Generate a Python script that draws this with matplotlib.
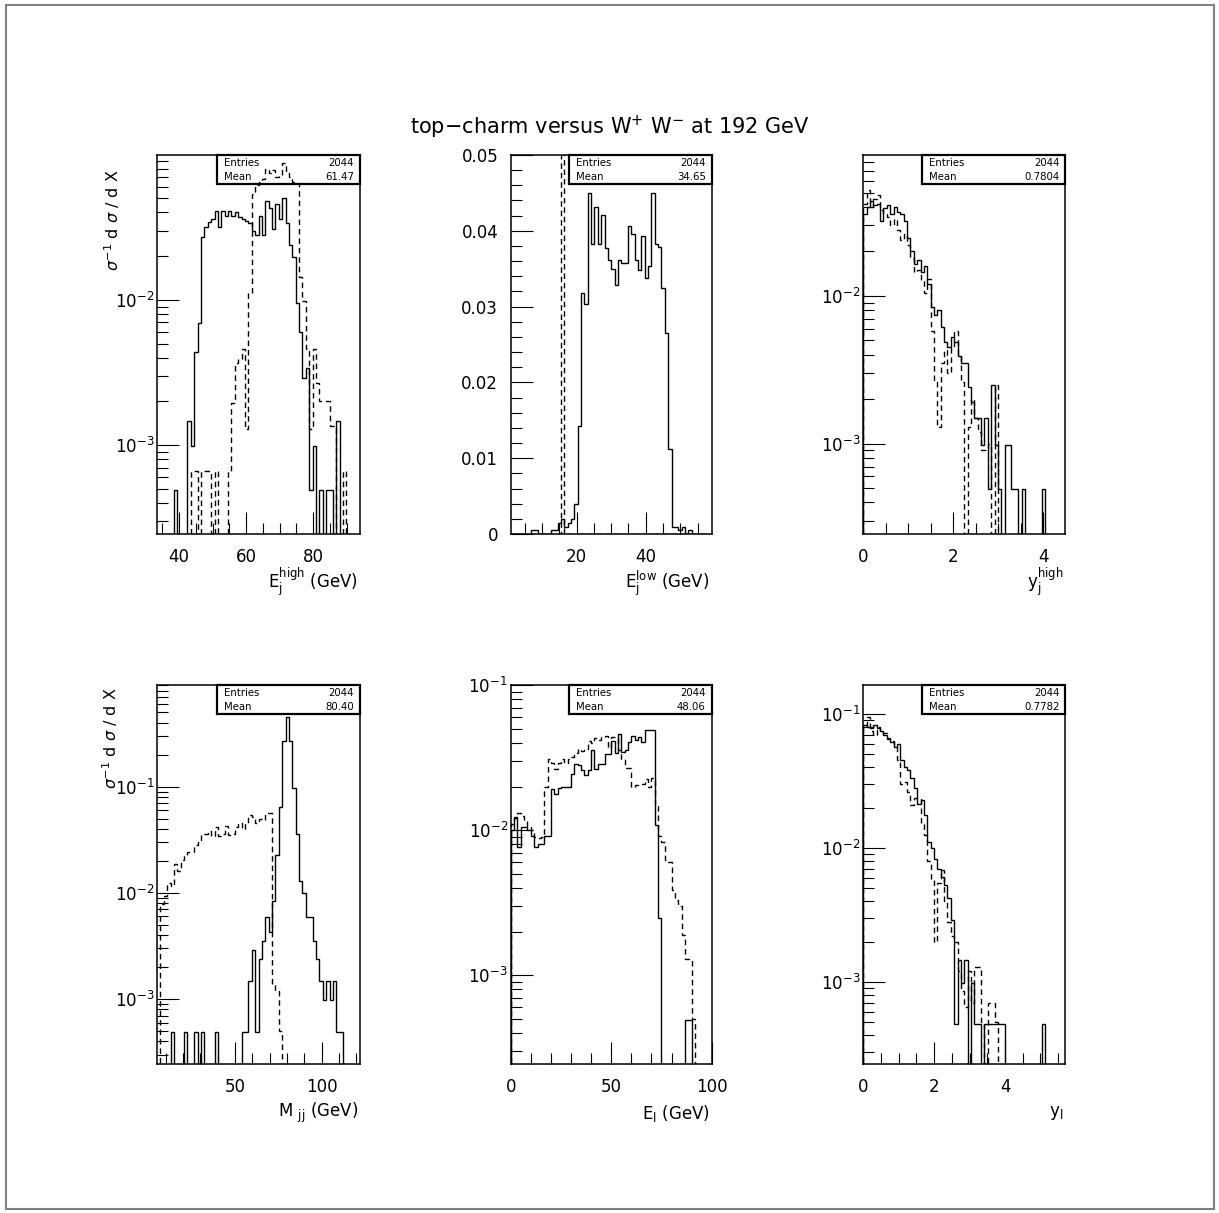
import numpy as np
import matplotlib
matplotlib.use("Agg")
import matplotlib.pyplot as plt
from matplotlib.ticker import MultipleLocator, LogLocator, NullFormatter, FuncFormatter
from matplotlib.patches import Rectangle

plt.rcParams['font.family'] = ['DejaVu Sans']
plt.rcParams['mathtext.fontset'] = 'dejavusans'

# ---------------- data ----------------
TITLE = "top\u2212charm versus W$^{+}$ W$^{-}$ at 192 GeV"
YLABEL = r"$\sigma^{-1}$ d $\sigma$ / d X"
ENTRIES = 2044
NBINS = 60

# Panel 1 : E_j^high
ejh_range = (33.4, 94.0)
ejh_mean = "61.47"
ejh_solid = [0, 0, 0, 0, 0, 4.9e-4, 0, 0, 0, 1.47e-3,
             9.8e-4, 4.4e-3, 6.9e-3, 0.027, 0.032, 0.0345, 0.036, 0.041, 0.032, 0.041,
             0.038, 0.041, 0.038, 0.040, 0.037, 0.036, 0.035, 0.034, 0.030, 0.028,
             0.038, 0.028, 0.048, 0.043, 0.031, 0.046, 0.036, 0.050, 0.034, 0.024,
             0.0196, 9.6e-3, 6.0e-3, 2.9e-3, 3.4e-3, 4.9e-4, 9.8e-4, 0, 4.9e-4, 0,
             4.9e-4, 4.9e-4, 0, 1.47e-3, 0, 0, 0, 0, 0, 0]
ejh_dash = [0, 0, 0, 0, 0, 0, 0, 0, 0, 0,
            6.6e-4, 6.6e-4, 0, 6.6e-4, 6.6e-4, 6.6e-4, 0, 6.6e-4, 0, 0,
            0, 6.6e-4, 1.96e-3, 3.7e-3, 3.9e-3, 4.6e-3, 1.3e-3, 0.0112, 0.054, 0.062,
            0.065, 0.068, 0.080, 0.075, 0.078, 0.070, 0.072, 0.088, 0.075, 0.070,
            0.065, 0.064, 0.0143, 0.0098, 4.6e-3, 1.3e-3, 4.6e-3, 2.7e-3, 2.0e-3, 2.0e-3,
            2.0e-3, 1.35e-3, 1.35e-3, 0, 0, 6.6e-4, 0, 0, 0, 0]

# Panel 2 : E_j^low
ejl_range = (0.9, 59.1)
ejl_mean = "34.65"
ejl_solid = [0, 0, 0, 0, 0, 0, 4.9e-4, 4.9e-4, 0, 0,
             0, 0, 4.9e-4, 4.9e-4, 1.47e-3, 1.96e-3, 9.8e-4, 1.47e-3, 1.96e-3, 3.9e-3,
             0.0142, 0.0318, 0.0303, 0.045, 0.0382, 0.0431, 0.0382, 0.0421, 0.0377, 0.0362,
             0.035, 0.0328, 0.0362, 0.0357, 0.0357, 0.0406, 0.0396, 0.0362, 0.0348, 0.0393,
             0.0338, 0.0353, 0.045, 0.0382, 0.0378, 0.0324, 0.0265, 0.0112, 9.8e-4, 9.8e-4,
             4.9e-4, 9.8e-4, 0, 4.9e-4, 0, 0, 0, 0, 0, 0]
ejl_dash = [0] * 15 + [1.0] + [0] * 44

# Panel 3 : y_j^high
yjh_range = (0.0, 4.49)
yjh_mean = "0.7804"
yjh_solid = [0.036, 0.040, 0.044, 0.041, 0.042, 0.032, 0.039, 0.041, 0.036, 0.040,
             0.037, 0.036, 0.032, 0.0245, 0.020, 0.0165, 0.0175, 0.0145, 0.016, 0.012,
             0.0084, 0.0074, 0.0080, 0.0062, 0.0049, 0.0045, 0.0053, 0.0049, 0.0039, 0.0035,
             0.0035, 0.0024, 0.0019, 0.0015, 0.0015, 9.8e-4, 0.0015, 4.9e-4, 0.0025, 9.8e-4,
             4.9e-4, 0, 9.8e-4, 9.8e-4, 4.9e-4, 4.9e-4, 0, 4.9e-4, 0, 0,
             0, 0, 0, 4.9e-4, 0, 0, 0, 0, 0, 0]
yjh_dash = [0.042, 0.052, 0.040, 0.045, 0.048, 0.038, 0.036, 0.034, 0.030, 0.033,
            0.028, 0.024, 0.026, 0.022, 0.018, 0.0145, 0.015, 0.0125, 0.0105, 0.013,
            0.0058, 0.0027, 0.0013, 0.0035, 0.0043, 0.0030, 0.0045, 0.0058, 0.0040, 0.0026,
            0, 0.0013, 0.0020, 0.0015, 0.0012, 9.0e-4, 9.0e-4, 1.0e-3, 0, 0.0025,
            0, 0, 0, 0, 0, 0, 0, 0, 0, 0,
            0, 0, 0, 0, 0, 0, 0, 0, 0, 0]

# Panel 4 : M_jj
mjj_range = (5.1, 122.1)
mjj_mean = "80.40"
mjj_solid = [0, 0, 0, 0, 4.9e-4, 0, 0, 0, 4.9e-4, 0,
             0, 4.9e-4, 0, 4.9e-4, 0, 0, 0, 4.9e-4, 0, 0,
             0, 0, 0, 0, 0, 4.9e-4, 4.9e-4, 1.47e-3, 2.9e-3, 4.9e-4,
             2.4e-3, 3.5e-3, 5.9e-3, 4.3e-3, 8.4e-3, 0.0227, 0.064, 0.27, 0.45, 0.27,
             0.098, 0.036, 0.0128, 9.9e-3, 5.9e-3, 5.9e-3, 3.5e-3, 2.4e-3, 1.47e-3, 9.8e-4,
             1.47e-3, 9.8e-4, 1.47e-3, 4.9e-4, 4.9e-4, 0, 0, 0, 0, 0]
mjj_dash = [0, 0.0078, 0.0093, 0.0123, 0.0115, 0.0185, 0.016, 0.0205, 0.0226, 0.0245,
            0.0245, 0.028, 0.030, 0.035, 0.036, 0.038, 0.034, 0.042, 0.034, 0.036,
            0.043, 0.035, 0.036, 0.042, 0.045, 0.040, 0.045, 0.054, 0.052, 0.045,
            0.050, 0.049, 0.056, 0.056, 0.0014, 0.0012, 5.0e-4, 0, 0, 0,
            0, 0, 0, 0, 0, 0, 0, 0, 0, 0,
            0, 0, 0, 0, 0, 0, 0, 0, 0, 0]

# Panel 5 : E_l
el_range = (0.0, 100.0)
el_mean = "48.06"
el_solid = [0.010, 0.0124, 0.0077, 0.0106, 0.0105, 0.010, 0.0092, 0.0077, 0.0081, 0.0081,
            0.0092, 0.0092, 0.0194, 0.0177, 0.0197, 0.0199, 0.0199, 0.0199, 0.0246, 0.0288,
            0.028, 0.0259, 0.024, 0.0259, 0.0356, 0.0263, 0.0288, 0.0288, 0.0338, 0.0338,
            0.0413, 0.0341, 0.0465, 0.0347, 0.0356, 0.0406, 0.045, 0.0417, 0.044, 0.0406,
            0.049, 0.049, 0.049, 0.0108, 0.0025, 0, 0, 0, 0, 0,
            0, 0, 4.9e-4, 4.9e-4, 0, 0, 0, 0, 0, 0]
el_dash = [0.0110, 0.0122, 0.0131, 0.0125, 0.0118, 0.0105, 0.0100, 0.0090, 0.0088, 0.0090,
           0.0200, 0.031, 0.029, 0.0266, 0.029, 0.031, 0.029, 0.031, 0.032, 0.034,
           0.0365, 0.0355, 0.036, 0.041, 0.040, 0.043, 0.042, 0.044, 0.045, 0.037,
           0.044, 0.043, 0.036, 0.031, 0.027, 0.027, 0.020, 0.0205, 0.021, 0.021,
           0.0225, 0.020, 0.023, 0.0148, 0.0092, 0.0083, 0.0060, 0.0060, 0.0039, 0.0033,
           0.0030, 0.0019, 0.0013, 0.0013, 5.0e-4, 0, 0, 0, 0, 0]

# Panel 6 : y_l
yl_range = (0.0, 5.7)
yl_mean = "0.7782"
yl_solid = [0.082, 0.080, 0.078, 0.082, 0.078, 0.074, 0.070, 0.066, 0.062, 0.057,
            0.060, 0.045, 0.040, 0.038, 0.033, 0.028, 0.0213, 0.0228, 0.0176, 0.0111,
            0.0099, 0.0083, 0.0070, 0.0061, 0.0053, 0.0042, 0.0029, 4.9e-4, 1.47e-3, 9.8e-4,
            1.47e-3, 0, 9.8e-4, 4.9e-4, 4.9e-4, 0, 4.9e-4, 4.9e-4, 4.9e-4, 4.9e-4,
            4.9e-4, 4.9e-4, 0, 0, 0, 0, 0, 0, 0, 0,
            0, 0, 0, 4.9e-4, 0, 0, 0, 0, 0, 0]
yl_dash = [0.080, 0.095, 0.075, 0.070, 0.080, 0.075, 0.072, 0.065, 0.063, 0.058,
           0.045, 0.030, 0.031, 0.026, 0.021, 0.0235, 0.0235, 0.0150, 0.0125, 0.0080,
           0.0058, 0.0020, 0.0055, 0.0068, 0.0040, 0.0028, 0.0022, 0.0020, 0.0012, 8.5e-4,
           6.5e-4, 0.0012, 7.0e-4, 0.0013, 0.0013, 5.0e-4, 0, 7.0e-4, 7.0e-4, 5.0e-4,
           0, 0, 0, 0, 0, 0, 0, 0, 0, 0,
           0, 0, 0, 0, 0, 0, 0, 0, 0, 0]

# ---------------- layout / style ----------------
W, H = 1219, 1213
fig = plt.figure(figsize=(W / 100, H / 100), dpi=100)

def fx(px):
    return px / W

def fy(py):
    return 1 - py / H

col_left = [157, 510.7, 863.3]
col_width = [203, 201, 202]
row_top = [155, 685]
row_h = 379

YMIN = 0.5 / ENTRIES

panels = [
    dict(rng=ejh_range, solid=ejh_solid, dash=ejh_dash, mean=ejh_mean, log=True,
         ylim=(YMIN, 0.0995), xmaj=20, xmin=5,
         xlabel=r"E$_{\rm j}^{\rm high}$ (GeV)"),
    dict(rng=ejl_range, solid=ejl_solid, dash=ejl_dash, mean=ejl_mean, log=False,
         ylim=(0, 0.05), xmaj=20, xmin=5,
         xlabel=r"E$_{\rm j}^{\rm low}$ (GeV)"),
    dict(rng=yjh_range, solid=yjh_solid, dash=yjh_dash, mean=yjh_mean, log=True,
         ylim=(YMIN, 0.0897), xmaj=2, xmin=0.5,
         xlabel=r"y$_{\rm j}^{\rm high}$"),
    dict(rng=mjj_range, solid=mjj_solid, dash=mjj_dash, mean=mjj_mean, log=True,
         ylim=(YMIN, 0.906), xmaj=50, xmin=10,
         xlabel=r"M $_{\rm jj}$ (GeV)"),
    dict(rng=el_range, solid=el_solid, dash=el_dash, mean=el_mean, log=True,
         ylim=(YMIN, 0.1005), xmaj=50, xmin=10,
         xlabel=r"E$_{\rm l}$ (GeV)"),
    dict(rng=yl_range, solid=yl_solid, dash=yl_dash, mean=yl_mean, log=True,
         ylim=(YMIN, 0.164), xmaj=2, xmin=0.5,
         xlabel=r"y$_{\rm l}$"),
]

LW = 1.0
DASH = (0, (4, 2.8))
TICKFS = 12

def logfmt(v, pos):
    e = int(round(np.log10(v)))
    return r"$10^{%d}$" % e

def linfmt(v, pos):
    if abs(v) < 1e-12:
        return "0"
    return "%.2f" % v

for i, p in enumerate(panels):
    r, c = divmod(i, 3)
    left = col_left[c]
    top = row_top[r]
    ax = fig.add_axes([fx(left), fy(top + row_h), fx(col_width[c]), row_h / H])
    lo, hi = p["rng"]
    edges = np.linspace(lo, hi, NBINS + 1)
    s = np.asarray(p["solid"], float)
    d = np.asarray(p["dash"], float)
    if p["log"]:
        ax.set_yscale("log")
        floor = 1e-9
        s = np.where(s > 0, s, floor)
        d = np.where(d > 0, d, floor)
        base = floor
    else:
        base = 0
    ax.stairs(s, edges, baseline=base, color="black", lw=LW)
    ax.stairs(d, edges, baseline=base, color="black", lw=LW, linestyle=DASH)
    ax.set_xlim(lo, hi)
    ax.set_ylim(*p["ylim"])

    for sp in ax.spines.values():
        sp.set_linewidth(1.1)

    ax.xaxis.set_major_locator(MultipleLocator(p["xmaj"]))
    ax.xaxis.set_minor_locator(MultipleLocator(p["xmin"]))
    if p["log"]:
        ax.yaxis.set_major_locator(LogLocator(base=10, subs=(1.0,)))
        ax.yaxis.set_minor_locator(LogLocator(base=10, subs=np.arange(2, 10)))
        ax.yaxis.set_major_formatter(FuncFormatter(logfmt))
        ax.yaxis.set_minor_formatter(NullFormatter())
        ypad = 2
    else:
        ax.yaxis.set_major_locator(MultipleLocator(0.01))
        ax.yaxis.set_minor_locator(MultipleLocator(0.002))
        ax.yaxis.set_major_formatter(FuncFormatter(linfmt))
        ypad = 9
    ax.tick_params(which="both", direction="in", top=False, right=False,
                   width=0.8, labelsize=TICKFS)
    ax.tick_params(which="major", length=16)
    ax.tick_params(which="minor", length=8)
    ax.tick_params(axis="x", which="major", pad=10)
    ax.tick_params(axis="y", which="major", pad=ypad)

    # stats box
    bw, bh = 143, 29
    x1 = left + col_width[c]
    rect = Rectangle((fx(x1 - bw), fy(top + bh)), bw / W, bh / H, fill=False,
                     lw=1.6, edgecolor="black", transform=fig.transFigure)
    fig.add_artist(rect)
    fig.text(fx(x1 - bw + 7), fy(top + 8.5), "Entries", fontsize=7.3,
             ha="left", va="center")
    fig.text(fx(x1 - 6), fy(top + 8.5), str(ENTRIES), fontsize=7.3,
             ha="right", va="center")
    fig.text(fx(x1 - bw + 7), fy(top + 22), "Mean", fontsize=7.3,
             ha="left", va="center")
    fig.text(fx(x1 - 6), fy(top + 22), p["mean"], fontsize=7.3,
             ha="right", va="center")

    # x label
    fig.text(fx(x1 - 2), fy(top + row_h + 49), p["xlabel"], fontsize=12,
             ha="right", va="center")

# y labels (left column)
fig.text(fx(112), fy(220), YLABEL, rotation=90, fontsize=11.5, ha="center", va="center")
fig.text(fx(110), fy(738), YLABEL, rotation=90, fontsize=11.5, ha="center", va="center")

# title
fig.text(0.5, fy(127), TITLE, fontsize=15, ha="center", va="center")

# outer frame
fig.add_artist(Rectangle((fx(6), fy(1209)), fx(1214 - 6), (1209 - 5) / H, fill=False,
                         lw=1.5, edgecolor="#808080", transform=fig.transFigure))

fig.savefig("out.png", dpi=100)
